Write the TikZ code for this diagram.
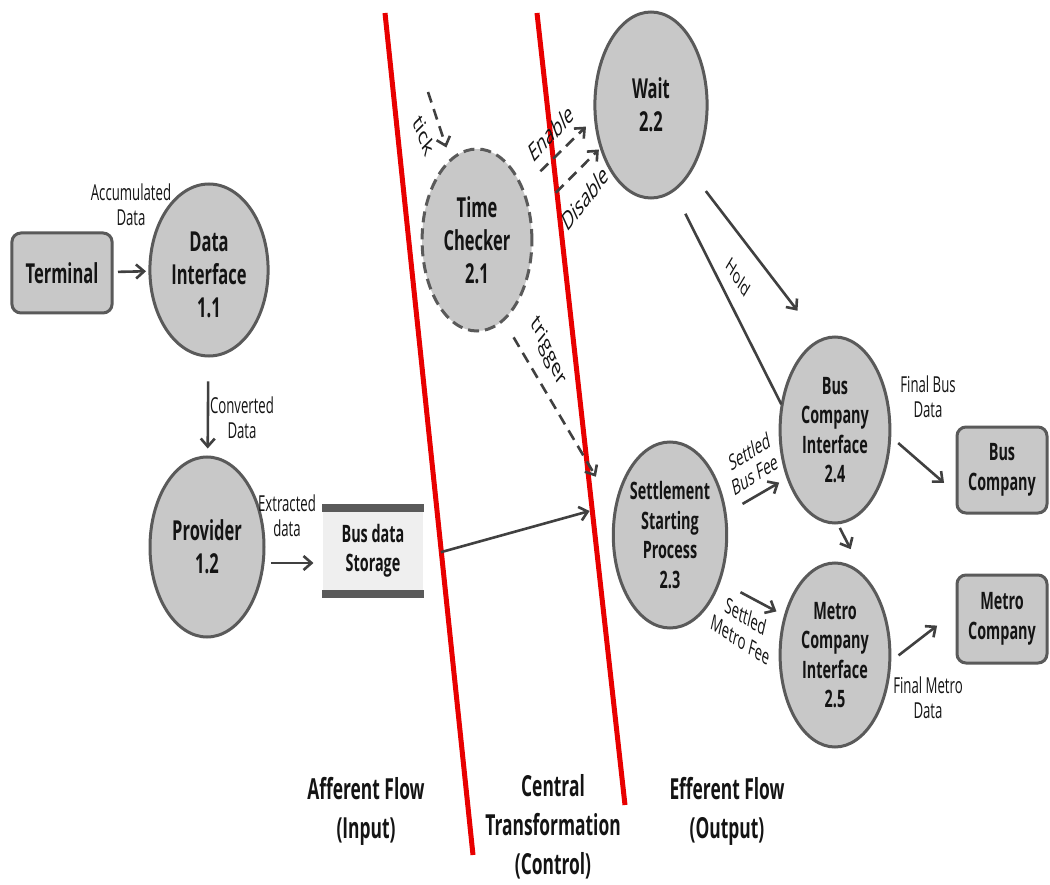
\documentclass[tikz,border=0pt]{standalone}
\usepackage{fontspec}
\setmainfont{Open Sans}
\usetikzlibrary{shapes.geometric,arrows.meta}
\definecolor{nodefill}{HTML}{C8C8C8}
\definecolor{nodeline}{HTML}{5A5A5A}
\definecolor{arrowcol}{HTML}{404040}
\definecolor{txtcol}{HTML}{141414}
\definecolor{storefill}{HTML}{EFEFEF}
\definecolor{splitred}{HTML}{E80000}
\begin{document}
\begin{tikzpicture}[x=1pt,y=-1pt,
 squish/.style={xscale=0.6},
 proc/.style={squish, ellipse, draw=nodeline, fill=nodefill, line width=3pt, inner sep=0pt, align=center, text=txtcol},
 ctrl/.style={proc, dash pattern=on 11pt off 6pt},
 ext/.style={squish, rectangle, rounded corners=9pt, draw=nodeline, fill=nodefill, line width=3pt, align=center, text=txtcol, inner sep=0pt},
 bigtext/.style={font=\bfseries\fontsize{27.5}{33}\selectfont},
 midtext/.style={font=\bfseries\fontsize{24}{29.5}\selectfont},
 lab/.style={squish, font=\fontsize{22}{25}\selectfont, text=txtcol, align=center, inner sep=0pt},
 rlab/.style={squish, font=\fontsize{26}{30}\selectfont, text=txtcol, inner sep=0pt},
 flowlab/.style={squish, font=\bfseries\fontsize{29}{39}\selectfont, text=txtcol, align=center, inner sep=0pt},
 arr/.style={draw=arrowcol, line width=2.6pt, -{Straight Barb[length=8pt,width=14pt]}},
 darr/.style={arr, dash pattern=on 11pt off 7pt},
 plain/.style={draw=arrowcol, line width=2.6pt},
 splitline/.style={draw=splitred, line width=5pt},
]
\useasboundingbox (0,0) rectangle (1050,885);
\fill[white] (0,0) rectangle (1050,885);

% partition lines
\coordinate (r1a) at (385,13);
\coordinate (r1b) at (473,855);
\coordinate (r2a) at (537,13);
\coordinate (r2b) at (625,805);
\draw[splitline] (r1a) -- (r1b);
\draw[splitline] (r2a) -- (r2b);

% nodes
\node[ext, bigtext, minimum width=167pt, minimum height=80pt] (term) at (62,273) {Terminal};
\node[proc, bigtext, minimum width=197pt, minimum height=172pt] (di) at (209,270) {\\[-4pt]Data\\Interface\\1.1};
\node[proc, bigtext, minimum width=190pt, minimum height=180pt] (prov) at (207,547) {Provider\\1.2};
\node[squish, rectangle, fill=storefill, minimum width=168pt, minimum height=85pt, inner sep=0pt, midtext, align=center, text=txtcol] (store) at (373,551) {Bus data\\Storage};
\draw[line width=8pt, draw=nodeline] (store.north west) -- (store.north east);
\draw[line width=8pt, draw=nodeline] (store.south west) -- (store.south east);
\node[ctrl, bigtext, minimum width=183pt, minimum height=182pt] (tc) at (477,240) {Time\\Checker\\2.1};
\node[proc, bigtext, minimum width=187pt, minimum height=186pt] (wait) at (651,105) {Wait\\2.2};
\node[proc, midtext, minimum width=183pt, minimum height=186pt] (ssp) at (670,535) {Settlement\\Starting\\Process\\2.3};
\node[proc, midtext, minimum width=183pt, minimum height=186pt] (bci) at (835,430) {Bus\\Company\\Interface\\2.4};
\node[proc, midtext, minimum width=183pt, minimum height=184pt] (mci) at (835,655) {Metro\\Company\\Interface\\2.5};
\node[ext, midtext, minimum width=150pt, minimum height=86pt] (bco) at (1002,470) {Bus\\Company};
\node[ext, midtext, minimum width=150pt, minimum height=88pt] (mco) at (1002,619) {Metro\\Company};

% connectors
\draw[arr, shorten <=5pt, shorten >=3pt] (term) -- (di);
\draw[arr, shorten <=24pt, shorten >=7pt] (di) -- (prov);
\draw[arr, shorten <=6pt, shorten >=9pt] ([yshift=-16pt]prov.east) -- ([yshift=-12pt]store.west);
\draw[arr, shorten <=18pt, shorten >=27pt] ([yshift=-6pt]store.east) -- (ssp.161);
\coordinate (tickstart) at (428,92);
\draw[darr, shorten >=12pt] (tickstart) -- (tc);
\draw[darr, shorten <=24pt, shorten >=12pt] (tc.34) -- (wait.188);
\draw[darr, shorten <=35pt, shorten >=2pt] (tc.14) -- (wait.207);
\draw[darr, shorten <=19pt, shorten >=37pt] (tc.-61) -- (ssp.164);
\draw[arr, shorten <=24pt, shorten >=36pt] (wait.-45) -- (bci.106);
\draw[plain, shorten <=25pt] (wait.-66) -- (bci.164);
\draw[arr, shorten <=19pt, shorten >=9pt] (ssp.13) -- (bci.211);
\draw[arr, shorten <=23pt, shorten >=9pt] (ssp.-29) -- (mci.155);
\draw[arr, shorten <=4pt, shorten >=29pt] (bci.-87) -- (mci.59);
\draw[arr, shorten <=10pt, shorten >=16pt] (bci.-4) -- (bco.197);
\draw[arr, shorten <=10pt, shorten >=24pt] (mci.-4) -- (mco.174);

% labels
\node[lab] (acclab) at (131,205) {Accumulated\\Data};
\node[lab] (convlab) at (242,418) {Converted\\Data};
\node[lab] (extrlab) at (287,516) {Extracted\\data};
\node[lab] (fbdlab) at (928,397) {Final Bus\\Data};
\node[lab] (fmdlab) at (928,698) {Final Metro\\Data};
\node[rlab, rotate=-59] (ticklab) at (424,135) {tick};
\node[rlab, rotate=33] (enlab) at (551,133) {Enable};
\node[rlab, rotate=37] (dislab) at (585,198) {Disable};
\node[rlab, rotate=-54] (triglab) at (548,352) {trigger};
\node[lab, rotate=-45, font=\fontsize{21}{24}\selectfont] (holdlab) at (738,277) {Hold};
\node[lab, rotate=21] (sbflab) at (752,463) {Settled\\Bus Fee};
\node[lab, rotate=-21] (smflab) at (743,628) {Settled\\Metro Fee};

% flow captions
\node[flowlab] (afflab) at (366,811) {Afferent Flow\\(Input)};
\node[flowlab] (cenlab) at (553,827) {Central\\Transformation\\(Control)};
\node[flowlab] (efflab) at (727,811) {Efferent Flow\\(Output)};
\end{tikzpicture}
\end{document}
